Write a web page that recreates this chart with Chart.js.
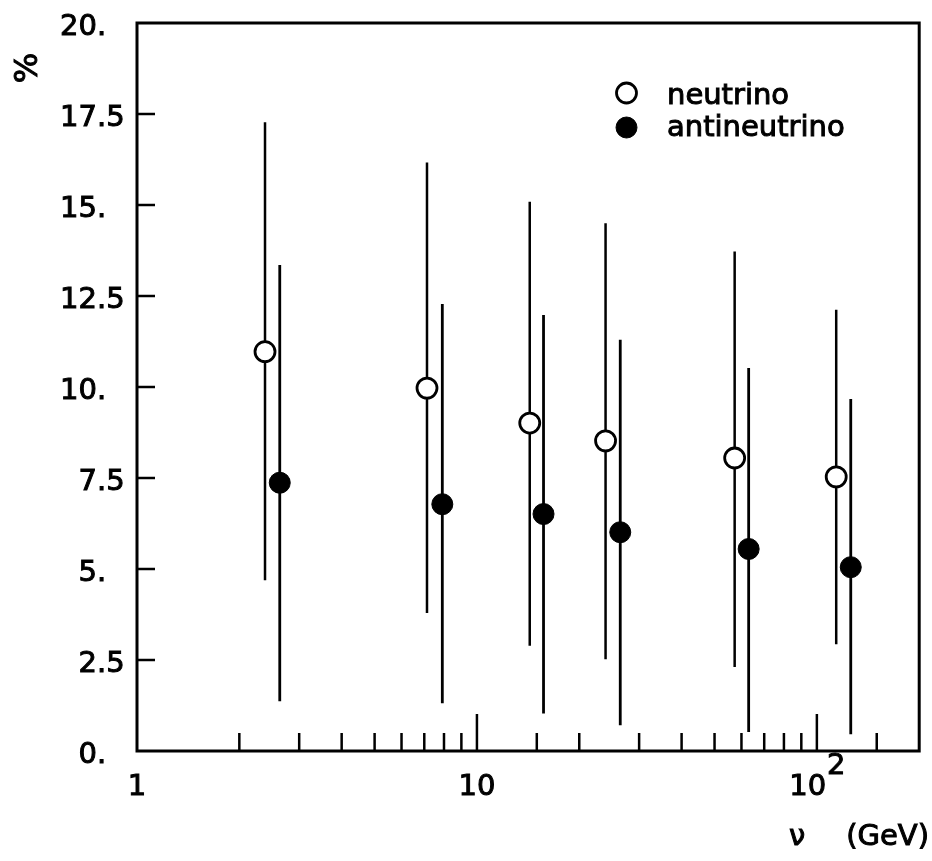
<!DOCTYPE html>
<html>
<head>
<meta charset="utf-8">
<script src="https://cdn.jsdelivr.net/npm/chart.js@4.4.0/dist/chart.umd.min.js"></script>
<style>
  body { margin: 0; background: #fff; }
  #wrap { width: 932px; height: 861px; }
</style>
</head>
<body>
<div id="wrap"><canvas id="chart"></canvas></div>
<script>
// neutrino, open circles (nu in GeV, value in %, error bar ends)
const nuEnergy = [2.38, 7.13, 14.3, 23.9, 57.3, 114];
const nuValue  = [10.97, 9.97, 9.01, 8.52, 8.05, 7.53];
const nuLow    = [4.69, 3.79, 2.89, 2.52, 2.31, 2.93];
const nuHigh   = [17.27, 16.17, 15.09, 14.50, 13.72, 12.12];

// antineutrino, filled circles
const antiEnergy = [2.63, 7.91, 15.7, 26.4, 63.0, 125.8];
const antiValue  = [7.37, 6.78, 6.51, 6.01, 5.55, 5.05];
const antiLow    = [1.37, 1.31, 1.03, 0.71, 0.52, 0.46];
const antiHigh   = [13.35, 12.28, 11.98, 11.30, 10.52, 9.67];

// tick labels
const yTickLabels = ['0.', '2.5', '5.', '7.5', '10.', '12.5', '15.', '17.5', '20.'];
const xTickValues = [1, 10, 100];
const xTickLabels = ['1', '10', '10'];
const xTickSups   = ['', '', '2'];

const FONT = '29px "DejaVu Sans"';

// filled text with a thin outline so it looks like the plotter lettering
function ink(ctx, txt, x, y) {
    ctx.fillText(txt, x, y);
    ctx.strokeText(txt, x, y);
}

// vertical error bars, drawn under the markers
const errorBars = {
    id: 'errorBars',
    beforeDatasetsDraw(chart) {
        const { ctx, scales: { x, y } } = chart;
        ctx.save();
        ctx.strokeStyle = '#000';
        chart.data.datasets.forEach(ds => {
            ctx.lineWidth = ds.errWidth;
            ds.data.forEach((p, i) => {
                const px = x.getPixelForValue(p.x);
                ctx.beginPath();
                ctx.moveTo(px, y.getPixelForValue(ds.errLow[i]));
                ctx.lineTo(px, y.getPixelForValue(ds.errHigh[i]));
                ctx.stroke();
            });
        });
        ctx.restore();
    }
};

// box, inward ticks, labels and legend
const frame = {
    id: 'frame',
    afterDraw(chart) {
        const { ctx, chartArea: a, scales: { x, y } } = chart;
        ctx.save();
        ctx.strokeStyle = '#000';
        ctx.fillStyle = '#000';
        ctx.lineWidth = 3;
        ctx.strokeRect(a.left, a.top, a.right - a.left, a.bottom - a.top);

        ctx.lineWidth = 2.5;
        x.ticks.forEach(t => {
            if (t.value <= x.min || t.value >= x.max) return;
            const major = Number.isInteger(Math.log10(t.value));
            const px = x.getPixelForValue(t.value);
            ctx.beginPath();
            ctx.moveTo(px, a.bottom);
            ctx.lineTo(px, a.bottom - (major ? 37 : 18));
            ctx.stroke();
        });
        y.ticks.forEach(t => {
            if (t.value <= y.min || t.value >= y.max) return;
            const py = y.getPixelForValue(t.value);
            ctx.beginPath();
            ctx.moveTo(a.left, py);
            ctx.lineTo(a.left + 18, py);
            ctx.stroke();
        });

        ctx.font = FONT;
        ctx.lineWidth = 1;
        ctx.textBaseline = 'middle';
        // y labels, lined up on the decimal point
        y.ticks.forEach((t, i) => {
            const py = y.getPixelForValue(t.value) + 4;
            const [whole, frac] = yTickLabels[i].split('.');
            ctx.textAlign = 'right';
            ink(ctx, whole, 97, py);
            ctx.textAlign = 'left';
            ink(ctx, '.' + frac, 97, py);
        });

        // x labels
        ctx.textBaseline = 'alphabetic';
        ctx.textAlign = 'left';
        xTickValues.forEach((v, i) => {
            const px = x.getPixelForValue(v);
            const w1 = ctx.measureText(xTickLabels[i]).width;
            const w2 = ctx.measureText(xTickSups[i]).width;
            const left = px - (w1 + w2) / 2;
            ink(ctx, xTickLabels[i], left, 795);
            if (xTickSups[i]) ink(ctx, xTickSups[i], left + w1 + 1, 774);
        });

        // axis titles
        ink(ctx, '\u03bd', 789, 845);
        ctx.textAlign = 'right';
        ink(ctx, '(GeV)', 929, 845);
        ctx.save();
        ctx.translate(29, 68);
        ctx.rotate(-Math.PI / 2);
        ctx.textAlign = 'center';
        ctx.textBaseline = 'middle';
        ctx.font = '32px "DejaVu Sans"';
        ink(ctx, '%', 0, 0);
        ctx.restore();

        // legend
        ctx.textAlign = 'left';
        ctx.textBaseline = 'alphabetic';
        const rows = [[93, 104], [127.5, 136]];
        chart.data.datasets.forEach((ds, i) => {
            ctx.beginPath();
            ctx.arc(626.5, rows[i][0], ds.pointRadius, 0, Math.PI * 2);
            ctx.fillStyle = ds.backgroundColor;
            ctx.fill();
            ctx.lineWidth = ds.pointBorderWidth;
            ctx.stroke();
            ctx.fillStyle = '#000';
            ctx.lineWidth = 1;
            ink(ctx, ds.label, 667, rows[i][1]);
        });
        ctx.restore();
    }
};

new Chart(document.getElementById('chart'), {
    type: 'scatter',
    data: {
        datasets: [{
            label: 'neutrino',
            data: nuEnergy.map((e, i) => ({ x: e, y: nuValue[i] })),
            errLow: nuLow,
            errHigh: nuHigh,
            errWidth: 2.5,
            backgroundColor: '#fff',
            borderColor: '#000',
            pointRadius: 10,
            pointBorderWidth: 2.8
        }, {
            label: 'antineutrino',
            data: antiEnergy.map((e, i) => ({ x: e, y: antiValue[i] })),
            errLow: antiLow,
            errHigh: antiHigh,
            errWidth: 2.8,
            backgroundColor: '#000',
            borderColor: '#000',
            pointRadius: 10.5,
            pointBorderWidth: 1
        }]
    },
    options: {
        responsive: true,
        maintainAspectRatio: false,
        animation: false,
        layout: { padding: { left: 137, top: 23, right: 4, bottom: 110 } },
        plugins: { legend: { display: false }, tooltip: { enabled: false } },
        scales: {
            x: {
                type: 'logarithmic',
                min: 1,
                max: 200,
                grid: { display: false, drawTicks: false },
                border: { display: false },
                ticks: { display: false, autoSkip: false }
            },
            y: {
                min: 0,
                max: 20,
                grid: { display: false, drawTicks: false },
                border: { display: false },
                ticks: { display: false, stepSize: 2.5 }
            }
        }
    },
    plugins: [errorBars, frame]
});
</script>
</body>
</html>
